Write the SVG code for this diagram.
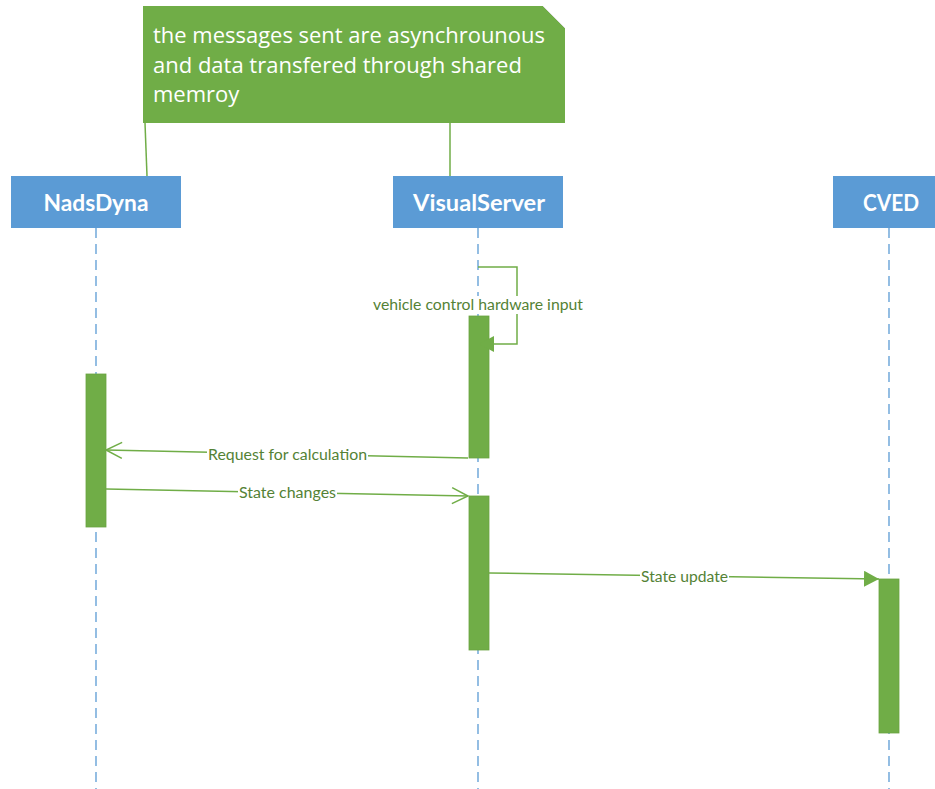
<svg xmlns="http://www.w3.org/2000/svg" width="935" height="789" viewBox="0 0 935 789">
<defs>
<style>
.head{fill:#5B9BD5}
.htxt{font-family:Lato,"Open Sans",sans-serif;font-weight:bold;font-size:23px;fill:#fff;text-anchor:middle}
.life{stroke:#5B9BD5;stroke-width:1.3;stroke-dasharray:10 6;fill:none}
.act{fill:#70AD47;stroke:#6AA341;stroke-width:0.8}
.msg{stroke:#70AD47;stroke-width:1.5;fill:none}
.lbl{font-family:Lato,"Open Sans",sans-serif;font-size:15.5px;fill:#548235;text-anchor:middle}
.lblbg{fill:#fff}
.note{fill:#70AD47}
.ntxt{font-family:"Open Sans","Noto Sans",sans-serif;font-size:22px;fill:#fff}
</style>
<marker id="open" viewBox="0 0 20 20" refX="18" refY="10" markerWidth="20" markerHeight="20" markerUnits="userSpaceOnUse" orient="auto">
<path d="M2,2 L18,10 L2,18" fill="none" stroke="#70AD47" stroke-width="1.5"/>
</marker>
<marker id="filled" viewBox="0 0 16 16" refX="15" refY="8" markerWidth="16" markerHeight="16" markerUnits="userSpaceOnUse" orient="auto">
<path d="M0,0 L15,8 L0,16 Z" fill="#70AD47"/>
</marker>
</defs>
<rect width="935" height="789" fill="#fff"/>

<g id="note">
<path class="note" d="M143,6 L543,6 L565,28 L565,123 L143,123 Z"/>
<path d="M543,6 L565,28" stroke="#e0e0e0" stroke-width="1" fill="none"/>
<text class="ntxt" x="153" y="43" textLength="392" lengthAdjust="spacingAndGlyphs">the messages sent are asynchrounous</text>
<text class="ntxt" x="153" y="73">and data transfered through shared</text>
<text class="ntxt" x="153" y="102">memroy</text>
</g>

<g id="connectors">
<line class="life" x1="96" y1="228" x2="96" y2="789"/>
<line class="life" x1="478" y1="228" x2="478" y2="789"/>
<line class="life" x1="889" y1="228" x2="889" y2="789"/>
<line x1="145" y1="123" x2="147" y2="176" stroke="#70AD47" stroke-width="1.5"/>
<line x1="450" y1="123" x2="450" y2="176" stroke="#70AD47" stroke-width="1.5"/>
</g>

<g id="NadsDyna">
<rect class="head" x="11" y="176" width="170" height="52"/>
<text class="htxt" x="96" y="211" textLength="105" lengthAdjust="spacingAndGlyphs">NadsDyna</text>
</g>
<g id="VisualServer">
<rect class="head" x="393" y="176" width="170" height="52"/>
<text class="htxt" x="479" y="211" textLength="132" lengthAdjust="spacingAndGlyphs">VisualServer</text>
</g>
<g id="CVED">
<rect class="head" x="833" y="176" width="112" height="52"/>
<text class="htxt" x="891" y="211" textLength="56" lengthAdjust="spacingAndGlyphs">CVED</text>
</g>

<g id="activations">
<rect class="act" x="469" y="316" width="20" height="142"/>
<rect class="act" x="86" y="374" width="20" height="153"/>
<rect class="act" x="469" y="496" width="20" height="154"/>
<rect class="act" x="879" y="579" width="20" height="154"/>
</g>

<g id="messages">
<polyline class="msg" points="478,267 517,267 517,344 479,344" marker-end="url(#filled)"/>
<rect class="lblbg" x="372" y="296" width="212" height="18"/>
<text class="lbl" x="478" y="310" textLength="210" lengthAdjust="spacingAndGlyphs">vehicle control hardware input</text>

<line class="msg" x1="468" y1="458" x2="106" y2="450" marker-end="url(#open)"/>
<rect class="lblbg" x="207" y="446" width="161" height="18"/>
<text class="lbl" x="287.5" y="460" textLength="159" lengthAdjust="spacingAndGlyphs">Request for calculation</text>

<line class="msg" x1="106" y1="489" x2="468" y2="496" marker-end="url(#open)"/>
<rect class="lblbg" x="238" y="484" width="99" height="18"/>
<text class="lbl" x="287.5" y="498" textLength="97" lengthAdjust="spacingAndGlyphs">State changes</text>

<line class="msg" x1="489" y1="573" x2="879" y2="579" marker-end="url(#filled)"/>
<rect class="lblbg" x="640" y="568" width="89" height="18"/>
<text class="lbl" x="684.5" y="582" textLength="87" lengthAdjust="spacingAndGlyphs">State update</text>
</g>
</svg>
